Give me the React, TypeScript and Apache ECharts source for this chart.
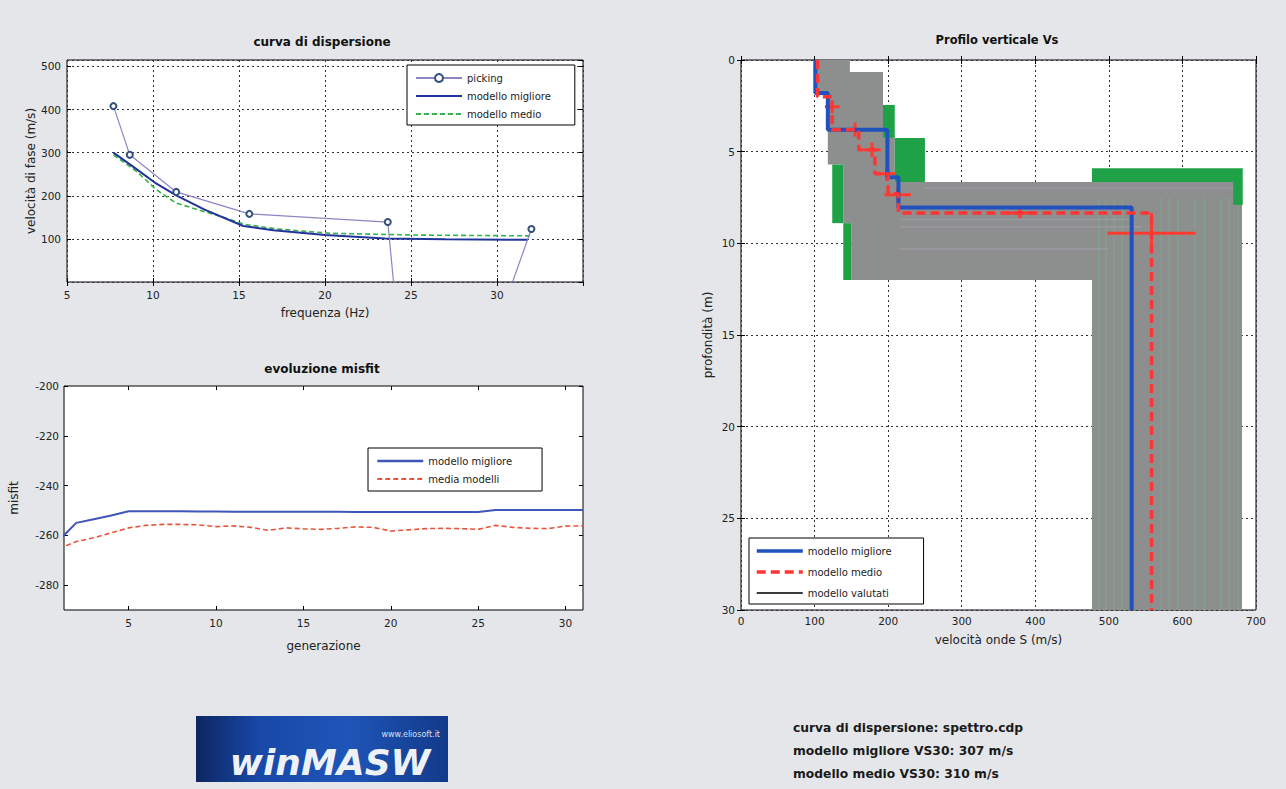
import React, { useEffect, useRef } from "react";
import * as echarts from "echarts";

// ---------- Data: curva di dispersione ----------
const pickingPts = [
  [7.7, 408], [8.65, 295], [11.35, 209], [15.6, 158], [23.65, 139], [25.45, -610], [32.0, 123],
];
const bestCurvePts = [
  [7.7, 300], [9.0, 263], [10.2, 228], [11.35, 201], [13.0, 168], [15.25, 130], [17.0, 120],
  [20.0, 109], [23.5, 101], [27.0, 99], [31.8, 98],
];
const meanCurvePts = [
  [7.7, 295], [9.0, 258], [10.2, 214], [11.35, 183], [13.0, 163], [14.1, 150], [15.3, 134],
  [17.2, 123], [20.3, 113], [25.0, 109], [32.0, 107],
];

// ---------- Data: evoluzione misfit ----------
const generations = [
  1, 2, 3, 4, 5, 6, 7, 8, 9, 10, 11, 12, 13, 14, 15, 16, 17, 18, 19, 20, 21, 22, 23, 24, 25, 26, 27, 28, 29, 30, 31,
];
const misfitBest = [
  -262.1, -255, -253.5, -252, -250.3, -250.3, -250.3, -250.3, -250.4, -250.4, -250.5, -250.5, -250.5,
  -250.5, -250.5, -250.5, -250.5, -250.6, -250.6, -250.6, -250.6, -250.6, -250.6, -250.6, -250.6,
  -249.8, -249.8, -249.8, -249.8, -249.8, -249.8,
];
const misfitMean = [
  -265.4, -262.5, -261, -259, -257, -256, -255.6, -255.6, -255.8, -256.5, -256.2, -256.8, -258,
  -257, -257.4, -257.6, -257.2, -256.6, -256.8, -258.3, -257.8, -257.3, -257.2, -257.3, -257.6,
  -256, -256.8, -257.2, -257.3, -256.3, -256.2,
];

// ---------- Data: profilo verticale Vs ----------
const bestProfile = [
  [101, 0], [101, 1.8], [118, 1.8], [118, 3.8], [199, 3.8], [199, 6.4], [214, 6.4], [214, 8.05],
  [531, 8.05], [531, 30],
];
const meanProfile = [
  [104, 0], [104, 2.0], [124, 2.0], [124, 3.8], [160, 3.8], [160, 4.9], [182, 4.9], [182, 6.2],
  [200, 6.2], [200, 7.3], [214, 7.3], [214, 8.35], [558, 8.35], [558, 30],
];
// [Vs, depth, half-width Vs, half-height depth]
const meanErrorBars = [
  [124, 2.55, 10, 0.35], [155, 3.8, 12, 0.38], [178, 4.9, 12, 0.4], [198, 6.2, 12, 0.4],
  [213, 7.35, 18, 0.35], [379, 8.35, 20, 0.28], [558, 9.45, 60, 1.1],
];
// envelope of evaluated models [Vs, depth]
const evaluatedEnvelope = [
  [100, 0], [148, 0], [148, 0.65], [193, 0.65], [193, 4.25], [209, 4.25], [209, 6.65], [681, 6.65],
  [681, 30], [477, 30], [477, 12], [150, 12], [150, 8.9], [139, 8.9], [139, 5.7], [118, 5.7],
  [118, 1.8], [100, 1.8],
];
// green evaluated models [Vs0, Vs1, depth0, depth1]
const evaluatedGreenBlocks = [
  [193, 209, 2.45, 4.25], [209, 250, 4.25, 6.65], [477, 682, 5.9, 6.65], [669, 682, 6.65, 7.9],
  [124, 139, 5.7, 8.9], [139, 150, 8.9, 12.0],
];
// vertical traces of evaluated models [Vs, depth0, depth1]
const evaluatedStripes = [
  [486, 7.5, 30], [496, 7.5, 30], [507, 7.5, 30], [518, 7.5, 30], [571, 7.5, 30], [582, 7.5, 30],
  [594, 7.5, 30], [617, 7.5, 30], [630, 7.5, 30], [652, 7.5, 30], [664, 7.5, 30], [676, 7.5, 30],
];
// horizontal traces of evaluated models [Vs0, Vs1, depth]
const evaluatedBandLines = [
  [250, 670, 7.0], [216, 530, 8.7], [216, 545, 9.1], [216, 500, 10.3],
];

const legendNames: Record<string, string> = {
  pick: "picking",
  tlBest: "modello migliore",
  tlMean: "modello medio",
  mBest: "modello migliore",
  mMean: "media modelli",
  pBest: "modello migliore",
  pMean: "modello medio",
  pEval: "modello valutati",
};

const FONT = "DejaVu Sans, Liberation Sans, Arial, sans-serif";

export default function App() {
  const ref = useRef<HTMLDivElement>(null);
  useEffect(() => {
    if (!ref.current) return;
    const chart = echarts.init(ref.current, undefined, { renderer: "svg" });

    const dotted = { show: true, lineStyle: { color: "#333", width: 1, type: [2, 3] as any } };
    const tick = { show: true, inside: true, length: 4, lineStyle: { color: "#000" } };
    const lbl = { color: "#222", fontSize: 10.5, fontFamily: FONT };
    const nameStyle = { color: "#222", fontSize: 12, fontFamily: FONT };
    const hiddenAxis = { axisLabel: { show: false }, splitLine: { show: false }, axisLine: { show: false }, axisTick: tick };

    const gridStyle = { show: true, backgroundColor: "#fff", borderColor: "#000", borderWidth: 1 };
    const legendCommon = {
      orient: "vertical",
      backgroundColor: "#fff",
      borderColor: "#000",
      borderWidth: 1,
      borderRadius: 0,
      itemGap: 8,
      itemWidth: 46,
      itemHeight: 10,
      selectedMode: false,
      textStyle: { color: "#222", fontSize: 10, fontFamily: FONT },
      formatter: (n: string) => legendNames[n] || n,
    };
    const noMark = (name: string, lineStyle?: any) => ({ name, itemStyle: { opacity: 0 }, ...(lineStyle ? { lineStyle } : {}) });

    const misfitTicks = [5, 10, 15, 20, 25, 30];
    const misfitYTicks = [-280, -260, -240, -220, -200];

    const option: any = {
      animation: false,
      backgroundColor: "transparent",
      grid: [
        { left: 67, top: 60, width: 516, height: 222, ...gridStyle },
        { left: 64, top: 386, width: 519, height: 224, ...gridStyle },
        { left: 741, top: 60, width: 515, height: 550, ...gridStyle },
      ],
      xAxis: [
        {
          gridIndex: 0, type: "value", min: 5, max: 35, interval: 5,
          axisLine: { show: false }, axisTick: tick, splitLine: dotted,
          axisLabel: { ...lbl, showMaxLabel: false, margin: 7 },
          name: "frequenza (Hz)", nameLocation: "middle", nameGap: 25, nameTextStyle: nameStyle,
        },
        {
          gridIndex: 1, type: "value", min: 1.3, max: 31,
          axisLine: { show: false }, axisTick: { ...tick, customValues: misfitTicks }, splitLine: { show: false },
          axisLabel: { ...lbl, customValues: misfitTicks, margin: 7 },
          name: "generazione", nameLocation: "middle", nameGap: 30, nameTextStyle: nameStyle,
        },
        {
          gridIndex: 2, type: "value", min: 0, max: 700, interval: 100,
          axisLine: { show: false }, axisTick: tick, splitLine: dotted,
          axisLabel: { ...lbl, margin: 5 },
          name: "velocità onde S (m/s)", nameLocation: "middle", nameGap: 24, nameTextStyle: nameStyle,
        },
        { gridIndex: 0, type: "value", position: "top", min: 5, max: 35, interval: 5, ...hiddenAxis },
        { gridIndex: 1, type: "value", position: "top", min: 1.3, max: 31, ...hiddenAxis, axisTick: { ...tick, customValues: misfitTicks } },
        { gridIndex: 2, type: "value", position: "top", min: 0, max: 700, interval: 100, ...hiddenAxis },
      ],
      yAxis: [
        {
          gridIndex: 0, type: "value", min: 0, max: 515, interval: 100,
          axisLine: { show: false }, axisTick: tick, splitLine: dotted,
          axisLabel: { ...lbl, showMinLabel: false, showMaxLabel: false, margin: 6 },
          name: "velocità di fase (m/s)", nameLocation: "middle", nameGap: 27, nameTextStyle: nameStyle,
        },
        {
          gridIndex: 1, type: "value", min: -290, max: -200,
          axisLine: { show: false }, axisTick: { ...tick, customValues: misfitYTicks }, splitLine: { show: false },
          axisLabel: { ...lbl, customValues: misfitYTicks, margin: 5 },
          name: "misfit", nameLocation: "middle", nameGap: 44, nameTextStyle: nameStyle,
        },
        {
          gridIndex: 2, type: "value", min: 0, max: 30, interval: 5, inverse: true,
          axisLine: { show: false }, axisTick: tick, splitLine: dotted,
          axisLabel: { ...lbl, margin: 6 },
          name: "profondità (m)", nameLocation: "middle", nameGap: 27, nameTextStyle: nameStyle,
        },
        { gridIndex: 0, type: "value", position: "right", min: 0, max: 515, interval: 100, ...hiddenAxis },
        { gridIndex: 1, type: "value", position: "right", min: -290, max: -200, ...hiddenAxis, axisTick: { ...tick, customValues: misfitYTicks } },
        { gridIndex: 2, type: "value", position: "right", min: 0, max: 30, interval: 5, inverse: true, ...hiddenAxis },
      ],
      legend: [
        { ...legendCommon, data: ["pick", noMark("tlBest"), noMark("tlMean")], left: 407, top: 65, padding: [8, 24, 6, 8] },
        { ...legendCommon, data: [noMark("mBest", { width: 2.5 }), noMark("mMean", { width: 2 })], left: 368, top: 448, padding: [8, 30, 7, 8] },
        {
          ...legendCommon, itemGap: 11,
          data: [noMark("pBest", { width: 3.5 }), noMark("pMean", { width: 3.5 }), noMark("pEval")],
          left: 749, top: 538, padding: [8, 32, 6, 6],
        },
      ],
      series: [
        // --- curva di dispersione
        {
          name: "tlMean", type: "line", xAxisIndex: 0, yAxisIndex: 0, data: meanCurvePts,
          symbol: "none", lineStyle: { color: "#35b04a", width: 1.6, type: [5, 3] },
        },
        {
          name: "tlBest", type: "line", xAxisIndex: 0, yAxisIndex: 0, data: bestCurvePts,
          symbol: "none", lineStyle: { color: "#22349a", width: 2 },
        },
        {
          name: "pick", type: "line", xAxisIndex: 0, yAxisIndex: 0, data: pickingPts, clip: true,
          symbol: "emptyCircle", symbolSize: 6,
          lineStyle: { color: "#8a86c4", width: 1.2 },
          itemStyle: { color: "#35507c", borderWidth: 1.6 },
        },
        // --- misfit
        {
          name: "mBest", type: "line", xAxisIndex: 1, yAxisIndex: 1, clip: true,
          data: generations.map((g, i) => [g, misfitBest[i]]),
          symbol: "none", lineStyle: { color: "#3e56b8", width: 2 },
        },
        {
          name: "mMean", type: "line", xAxisIndex: 1, yAxisIndex: 1, clip: true,
          data: generations.map((g, i) => [g, misfitMean[i]]),
          symbol: "none", lineStyle: { color: "#e8553c", width: 1.6, type: [5, 3] },
        },
        // --- profilo Vs
        {
          name: "pEnv", type: "custom", xAxisIndex: 2, yAxisIndex: 2, silent: true,
          data: [[0, 0]],
          renderItem: (_p: any, api: any) => ({
            type: "polygon",
            shape: { points: evaluatedEnvelope.map((p) => api.coord(p)) },
            style: { fill: "#8d8f8e" },
          }),
        },
        {
          name: "pBandLines", type: "custom", xAxisIndex: 2, yAxisIndex: 2, silent: true,
          data: evaluatedBandLines, encode: { x: 0, y: 2 },
          renderItem: (_p: any, api: any) => {
            const a = api.coord([api.value(0), api.value(2)]);
            const b = api.coord([api.value(1), api.value(2)]);
            return { type: "line", shape: { x1: a[0], y1: a[1], x2: b[0], y2: b[1] }, style: { stroke: "#a09aa8", lineWidth: 1.5, opacity: 0.8 } };
          },
        },
        {
          name: "pStripes", type: "custom", xAxisIndex: 2, yAxisIndex: 2, silent: true,
          data: evaluatedStripes, encode: { x: 0, y: 1 },
          renderItem: (_p: any, api: any) => {
            const a = api.coord([api.value(0), api.value(1)]);
            const b = api.coord([api.value(0), api.value(2)]);
            return { type: "line", shape: { x1: a[0], y1: a[1], x2: b[0], y2: b[1] }, style: { stroke: "#80a589", lineWidth: 1.5, opacity: 0.75 } };
          },
        },
        {
          name: "pGreen", type: "custom", xAxisIndex: 2, yAxisIndex: 2, silent: true,
          data: evaluatedGreenBlocks, encode: { x: 0, y: 2 },
          renderItem: (_p: any, api: any) => {
            const v0 = api.value(0), v1 = api.value(1), d0 = api.value(2), d1 = api.value(3);
            return {
              type: "polygon",
              shape: { points: [api.coord([v0, d0]), api.coord([v1, d0]), api.coord([v1, d1]), api.coord([v0, d1])] },
              style: { fill: "#1fa247" },
            };
          },
        },
        {
          name: "pBest", type: "line", xAxisIndex: 2, yAxisIndex: 2, data: bestProfile,
          symbol: "none", lineStyle: { color: "#2051bd", width: 4 },
        },
        {
          name: "pMean", type: "line", xAxisIndex: 2, yAxisIndex: 2, data: meanProfile,
          symbol: "none", lineStyle: { color: "#ff3434", width: 3.5, type: [9, 5] },
        },
        {
          name: "pErr", type: "custom", xAxisIndex: 2, yAxisIndex: 2, silent: true,
          data: meanErrorBars, encode: { x: 0, y: 1 },
          renderItem: (_p: any, api: any) => {
            const vs = api.value(0), d = api.value(1), dv = api.value(2), dd = api.value(3);
            const l = api.coord([vs - dv, d]), r = api.coord([vs + dv, d]);
            const t = api.coord([vs, d - dd]), b = api.coord([vs, d + dd]);
            const st = { stroke: "#ff3b30", lineWidth: 3 };
            return {
              type: "group",
              children: [
                { type: "line", shape: { x1: l[0], y1: l[1], x2: r[0], y2: r[1] }, style: st },
                { type: "line", shape: { x1: t[0], y1: t[1], x2: b[0], y2: b[1] }, style: st },
              ],
            };
          },
        },
        {
          name: "pEval", type: "line", xAxisIndex: 2, yAxisIndex: 2, data: [],
          symbol: "none", lineStyle: { color: "#3a3a3a", width: 1 },
        },
      ],
      graphic: [
        { type: "text", x: 322, y: 42, style: { text: "curva di dispersione", textAlign: "center", textVerticalAlign: "middle", font: `bold 12px ${FONT}`, fill: "#111" } },
        { type: "text", x: 322, y: 369, style: { text: "evoluzione misfit", textAlign: "center", textVerticalAlign: "middle", font: `bold 12px ${FONT}`, fill: "#111" } },
        { type: "text", x: 997, y: 40, style: { text: "Profilo verticale Vs", textAlign: "center", textVerticalAlign: "middle", font: `bold 11.5px ${FONT}`, fill: "#111" } },
        {
          type: "rect", shape: { x: 196, y: 716, width: 252, height: 66 },
          style: {
            fill: new echarts.graphic.LinearGradient(0, 0, 1, 0, [
              { offset: 0, color: "#0d2660" },
              { offset: 0.25, color: "#1848a8" },
              { offset: 0.6, color: "#1f55b8" },
              { offset: 1, color: "#123a8a" },
            ]),
          },
        },
        { type: "text", x: 440, y: 734, style: { text: "www.eliosoft.it", textAlign: "right", textVerticalAlign: "middle", font: `8px ${FONT}`, fill: "#d6e0f0" } },
        { type: "text", x: 330, y: 762, style: { text: "winMASW", textAlign: "center", textVerticalAlign: "middle", font: `italic bold 36px ${FONT}`, fill: "#eef2f8" } },
        { type: "text", x: 793, y: 728, style: { text: "curva di dispersione: spettro.cdp", textVerticalAlign: "middle", font: `bold 12.3px ${FONT}`, fill: "#1a1a1a" } },
        { type: "text", x: 793, y: 751, style: { text: "modello migliore VS30: 307 m/s", textVerticalAlign: "middle", font: `bold 12.3px ${FONT}`, fill: "#1a1a1a" } },
        { type: "text", x: 793, y: 774, style: { text: "modello medio VS30: 310 m/s", textVerticalAlign: "middle", font: `bold 12.3px ${FONT}`, fill: "#1a1a1a" } },
      ],
    };

    chart.setOption(option);
    return () => chart.dispose();
  }, []);

  return (
    <div
      style={{ position: "fixed", left: 0, top: 0, width: 1286, height: 789, background: "#e4e6e9" }}
    >
      <div ref={ref} style={{ width: 1286, height: 789 }} />
    </div>
  );
}
